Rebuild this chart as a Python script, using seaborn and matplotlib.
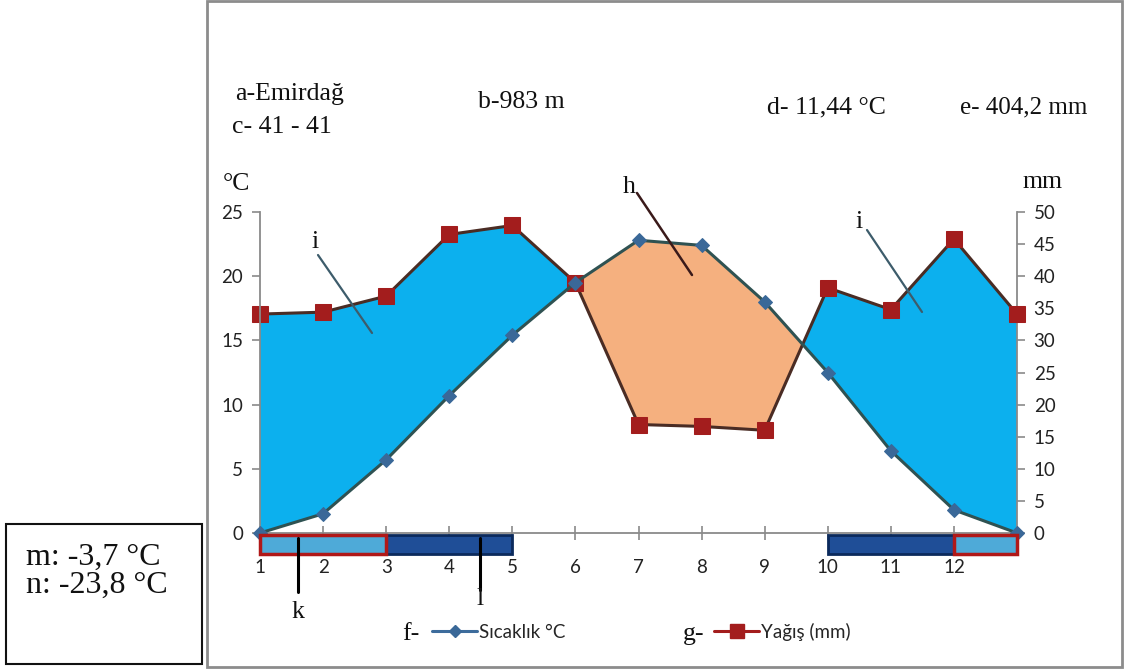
import matplotlib
matplotlib.use("Agg")
import matplotlib.pyplot as plt
import seaborn as sns
import pandas as pd
from matplotlib.patches import Rectangle
from matplotlib.lines import Line2D

# ---------------- data ----------------
months = list(range(1, 14))
month_labels = [str(m) for m in range(1, 13)] + [""]
temperature = [0.0, 1.5, 5.7, 10.7, 15.4, 19.5, 22.8, 22.4, 18.0, 12.5, 6.4, 1.8, 0.0]
precipitation = [34.1, 34.4, 36.9, 46.5, 47.9, 39.0, 16.9, 16.6, 16.0, 38.2, 34.8, 45.8, 34.1]
light_frost = [(1, 3), (12, 13)]
dark_frost = [(3, 5), (10, 12)]
temp_ticks = [0, 5, 10, 15, 20, 25]
precip_ticks = list(range(0, 55, 5))

info_texts = {
    "a": "a-Emirdağ", "c": "c- 41 - 41", "b": "b-983 m",
    "d": "d- 11,44 °C", "e": "e- 404,2 mm",
}
extreme_texts = ["m: -3,7 °C", "n: -23,8 °C"]
legend_labels = ["Sıcaklık °C", "Yağış (mm)"]

# ---------------- style ----------------
sns.set_theme(style="white")
plt.rcParams["font.family"] = ["Liberation Serif", "DejaVu Serif"]
SANS = ["Lato", "DejaVu Sans"]
SERIF = ["Liberation Serif", "DejaVu Serif"]

W, H = 1125, 670
fig = plt.figure(figsize=(W / 100, H / 100), dpi=100)
fig.patch.set_facecolor("white")


def fx(x):
    return x / W


def fy(y):
    return 1 - y / H


ax = fig.add_axes([fx(260), fy(533), (1017 - 260) / W, (533 - 212) / H])
ax2 = ax.twinx()

df = pd.DataFrame({"month": months, "temp": temperature, "precip": precipitation})
t_mm = df["temp"] * 2  # 1 °C = 2 mm on the twin axis

ax2.fill_between(df["month"], t_mm, df["precip"], where=df["precip"] >= t_mm,
                 interpolate=True, color="#0cb0ee", lw=0, zorder=1)
ax2.fill_between(df["month"], t_mm, df["precip"], where=df["precip"] <= t_mm,
                 interpolate=True, color="#f5b07f", lw=0, zorder=1)
sns.lineplot(data=df, x="month", y="precip", ax=ax2, color="#4a2c24", lw=2.2,
             marker="s", markersize=11, markerfacecolor="#a31d1d",
             markeredgecolor="#a31d1d", zorder=3, clip_on=False)
sns.lineplot(data=df, x="month", y="temp", ax=ax, color="#2f5252", lw=2.2,
             marker="D", markersize=7, markerfacecolor="#3a6898",
             markeredgecolor="#3a6898", zorder=3, clip_on=False)
ax.set_zorder(ax2.get_zorder() + 1)
ax.patch.set_visible(False)

ax.set_xlim(1, 13)
ax.set_ylim(0, 25)
ax2.set_ylim(0, 50)
ax.set_xlabel("")
ax.set_ylabel("")
ax2.set_ylabel("")
ax.set_xticks(months, month_labels)
ax.set_yticks(temp_ticks, [str(t) for t in temp_ticks])
ax2.set_yticks(precip_ticks, [str(p) for p in precip_ticks])

grey = "#8a8a8a"
for a in (ax, ax2):
    for s in a.spines.values():
        s.set_visible(False)
        s.set_color(grey)
        s.set_linewidth(1.3)
ax.spines["left"].set_visible(True)
ax.spines["bottom"].set_visible(True)
ax2.spines["right"].set_visible(True)

ax.tick_params(axis="x", direction="inout", length=10, width=1.2, color=grey,
               pad=14, labelsize=13.5, labelcolor="#222222", bottom=True)
ax.tick_params(axis="y", direction="out", length=6, width=1.2, color=grey,
               pad=6, labelsize=13.5, labelcolor="#222222", left=True)
ax2.tick_params(axis="y", direction="out", length=6, width=1.2, color=grey,
                pad=6, labelsize=13.5, labelcolor="#222222", right=True)
for lbl in ax.get_xticklabels() + ax.get_yticklabels() + ax2.get_yticklabels():
    lbl.set_fontfamily(SANS)

# frost period bars under the axis
for s, e in dark_frost:
    ax.add_patch(Rectangle((s, -1.6), e - s, 1.42, facecolor="#1f4e97",
                           edgecolor="#0b2a5c", lw=2, clip_on=False, zorder=5))
for s, e in light_frost:
    ax.add_patch(Rectangle((s, -1.6), e - s, 1.42, facecolor="#4eaad8",
                           edgecolor="#b01818", lw=2.5, clip_on=False, zorder=6))

# ---------------- texts ----------------
def ftext(x, y, s, size=18.5, family=SERIF, **kw):
    fig.text(fx(x), fy(y), s, fontsize=size, family=family, color="#111111",
             va="baseline", **kw)


ftext(235, 100, info_texts["a"])
ftext(232, 133, info_texts["c"])
ftext(478, 108, info_texts["b"])
ftext(767, 113, info_texts["d"])
ftext(960, 113, info_texts["e"], size=18)
ftext(223, 190, "°C")
ftext(1022, 188, "mm")
ftext(623, 193, "h")
ftext(311, 248, "i")
ftext(856, 228, "i")
ftext(298, 618, "k", ha="center")
ftext(480, 605, "l", ha="center")
ftext(402, 640, "f-")
ftext(683, 640, "g-")
ftext(26, 565, extreme_texts[0], size=23)
ftext(26, 593, extreme_texts[1], size=23)


def fline(x1, y1, x2, y2, color, lw):
    fig.add_artist(Line2D([fx(x1), fx(x2)], [fy(y1), fy(y2)],
                          transform=fig.transFigure, color=color, lw=lw))


fline(637, 193, 692, 275, "#3a1a1a", 1.8)
fline(318, 255, 372, 333, "#3d5c6b", 1.6)
fline(867, 230, 922, 312, "#3d5c6b", 1.6)
fline(298, 538, 298, 592, "#000000", 2.2)
fline(480, 538, 480, 590, "#000000", 2.2)

# legends
h1 = Line2D([], [], color="#3d6c9c", lw=2.2, marker="D", markersize=6.5,
            markerfacecolor="#3a6898", markeredgecolor="#3a6898")
h2 = Line2D([], [], color="#a31d1d", lw=2.2, marker="s", markersize=10,
            markerfacecolor="#a31d1d", markeredgecolor="#a31d1d")
for h, lab, x0 in ((h1, legend_labels[0], 432), (h2, legend_labels[1], 714)):
    fig.legend(handles=[h], labels=[lab], loc="center left",
               bbox_to_anchor=(fx(x0), fy(632)), frameon=False,
               handlelength=2.4, handletextpad=0.1, borderpad=0,
               borderaxespad=0, prop={"family": SANS, "size": 13.5})

# frames
fig.add_artist(Rectangle((fx(207), fy(667)), (1122 - 207) / W, (667 - 1) / H,
                         transform=fig.transFigure, fill=False,
                         edgecolor="#8c8c8c", lw=2))
fig.add_artist(Rectangle((fx(6), fy(664)), (202 - 6) / W, (664 - 524) / H,
                         transform=fig.transFigure, fill=False,
                         edgecolor="#111111", lw=1.5))

fig.savefig("out.png", dpi=100, facecolor="white")
